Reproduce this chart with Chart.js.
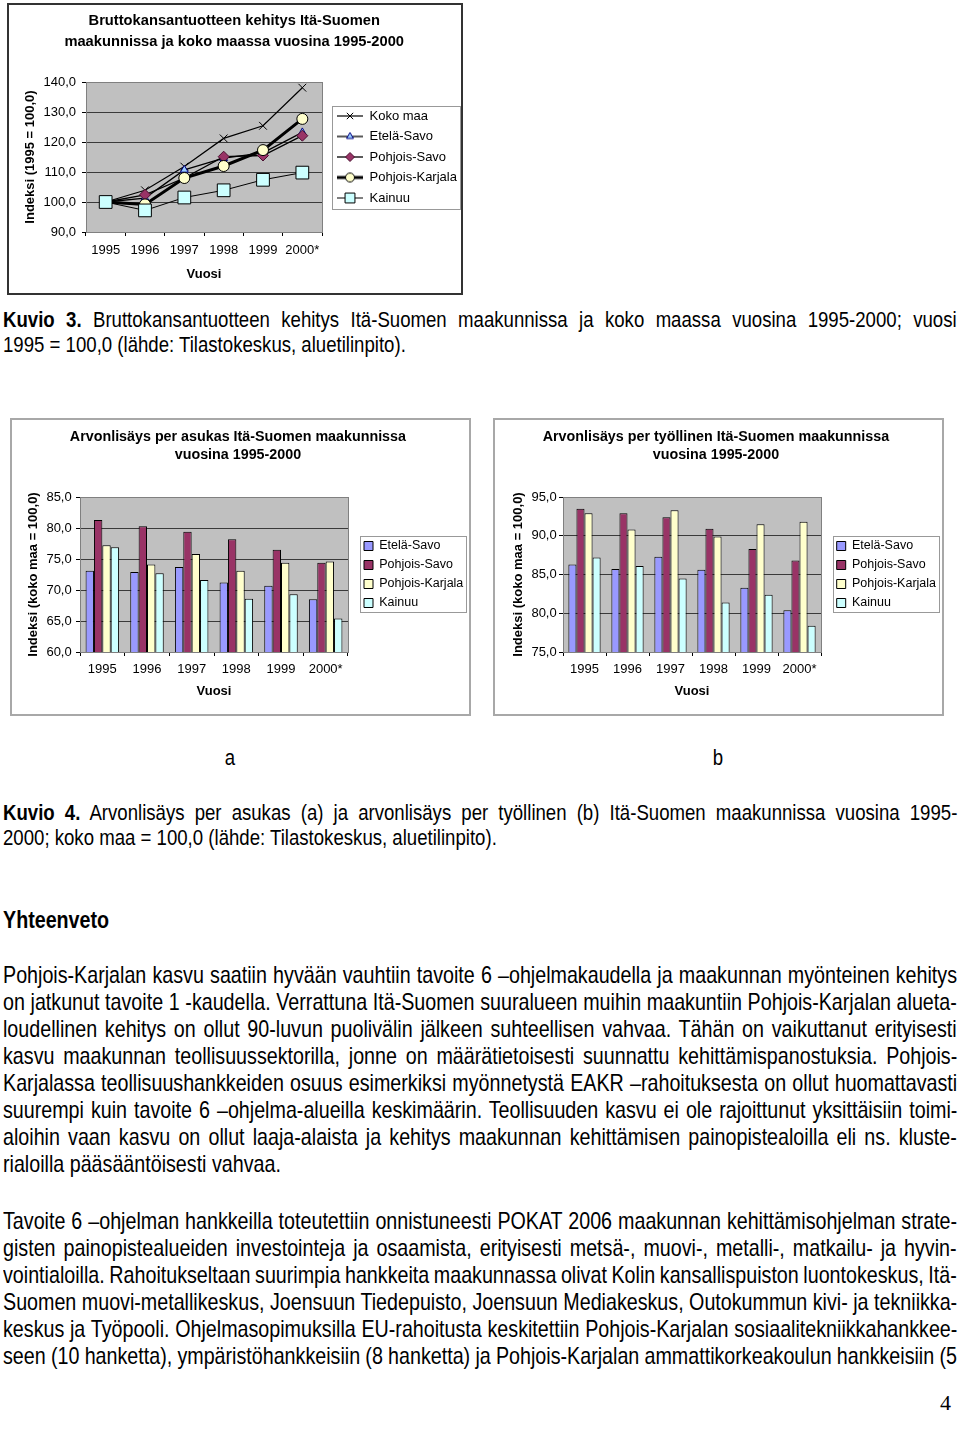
<!DOCTYPE html>
<html><head><meta charset="utf-8">
<script src="https://cdn.jsdelivr.net/npm/chart.js@4.4.1/dist/chart.umd.min.js"></script>
<style>
html,body{margin:0;padding:0;background:#fff;}
body{width:960px;height:1432px;position:relative;overflow:hidden;}
.box{position:absolute;background:#fff;}
.box canvas{position:absolute;left:0;top:0;}
.t{position:absolute;left:3px;width:1163px;font-family:"Liberation Sans",Arial,sans-serif;color:#000;white-space:nowrap;transform:scaleX(0.82);transform-origin:0 0;}
.b24{font-size:24px;line-height:27px;height:27px;}
.c22{font-size:22.7px;line-height:25px;height:25px;}
.lab{position:absolute;font-family:"Liberation Sans",Arial,sans-serif;font-size:22.7px;line-height:25px;width:40px;text-align:center;transform:scaleX(0.82);}
.pg{position:absolute;left:940px;width:20px;font-family:"Liberation Serif","Times New Roman",serif;font-size:22px;line-height:25px;}
</style>
</head><body>

<div class="box" style="left:7px;top:3px;width:452px;height:288px;border:2px solid #333;"><canvas id="c1" width="452" height="288" style="width:452px;height:288px"></canvas></div>

<div class="t c22 j" style="top:307px"><b>Kuvio 3.</b> Bruttokansantuotteen kehitys Itä-Suomen maakunnissa ja koko maassa vuosina 1995-2000; vuosi</div>
<div class="t c22" style="top:332px">1995 = 100,0 (lähde: Tilastokeskus, aluetilinpito).</div>

<div class="box" style="left:10px;top:418px;width:457px;height:294px;border:2px solid #a8a8a8;"><canvas id="c2" width="457" height="294" style="width:457px;height:294px"></canvas></div>
<div class="box" style="left:493px;top:418px;width:447px;height:294px;border:2px solid #a8a8a8;"><canvas id="c3" width="447" height="294" style="width:447px;height:294px"></canvas></div>

<div class="lab" style="left:210px;top:745px">a</div>
<div class="lab" style="left:698px;top:745px">b</div>

<div class="t c22 j" style="top:800px"><b>Kuvio 4.</b> Arvonlisäys per asukas (a) ja arvonlisäys per työllinen (b) Itä-Suomen maakunnissa vuosina 1995-</div>
<div class="t c22" style="top:825px">2000; koko maa = 100,0 (lähde: Tilastokeskus, aluetilinpito).</div>

<div class="t b24" style="top:906px;font-weight:bold">Yhteenveto</div>

<div class="t b24 j" style="top:961px">Pohjois-Karjalan kasvu saatiin hyvään vauhtiin tavoite 6 –ohjelmakaudella ja maakunnan myönteinen kehitys</div>
<div class="t b24 j" style="top:988px">on jatkunut tavoite 1 -kaudella. Verrattuna Itä-Suomen suuralueen muihin maakuntiin Pohjois-Karjalan alueta-</div>
<div class="t b24 j" style="top:1015px">loudellinen kehitys on ollut 90-luvun puolivälin jälkeen suhteellisen vahvaa. Tähän on vaikuttanut erityisesti</div>
<div class="t b24 j" style="top:1042px">kasvu maakunnan teollisuussektorilla, jonne on määrätietoisesti suunnattu kehittämispanostuksia. Pohjois-</div>
<div class="t b24 j" style="top:1069px">Karjalassa teollisuushankkeiden osuus esimerkiksi myönnetystä EAKR –rahoituksesta on ollut huomattavasti</div>
<div class="t b24 j" style="top:1096px">suurempi kuin tavoite 6 –ohjelma-alueilla keskimäärin. Teollisuuden kasvu ei ole rajoittunut yksittäisiin toimi-</div>
<div class="t b24 j" style="top:1123px">aloihin vaan kasvu on ollut laaja-alaista ja kehitys maakunnan kehittämisen painopistealoilla eli ns. kluste-</div>
<div class="t b24" style="top:1150px">rialoilla pääsääntöisesti vahvaa.</div>

<div class="t b24 j" style="top:1207px">Tavoite 6 –ohjelman hankkeilla toteutettiin onnistuneesti POKAT 2006 maakunnan kehittämisohjelman strate-</div>
<div class="t b24 j" style="top:1234px">gisten painopistealueiden investointeja ja osaamista, erityisesti metsä-, muovi-, metalli-, matkailu- ja hyvin-</div>
<div class="t b24 j" style="top:1261px">vointialoilla. Rahoitukseltaan suurimpia hankkeita maakunnassa olivat Kolin kansallispuiston luontokeskus, Itä-</div>
<div class="t b24 j" style="top:1288px">Suomen muovi-metallikeskus, Joensuun Tiedepuisto, Joensuun Mediakeskus, Outokummun kivi- ja tekniikka-</div>
<div class="t b24 j" style="top:1315px">keskus ja Työpooli. Ohjelmasopimuksilla EU-rahoitusta keskitettiin Pohjois-Karjalan sosiaalitekniikkahankkee-</div>
<div class="t b24 j" style="top:1342px">seen (10 hanketta), ympäristöhankkeisiin (8 hanketta) ja Pohjois-Karjalan ammattikorkeakoulun hankkeisiin (5</div>

<div class="pg" style="top:1390px">4</div>

<script>
// ---------- DATA ----------
const years = ['1995', '1996', '1997', '1998', '1999', '2000*'];

const bktTitle = ['Bruttokansantuotteen kehitys Itä-Suomen', 'maakunnissa ja koko maassa vuosina 1995-2000'];
const bktYTitle = 'Indeksi (1995 = 100,0)';
const bktNames = ['Koko maa', 'Etelä-Savo', 'Pohjois-Savo', 'Pohjois-Karjala', 'Kainuu'];
const bktKokoMaa = [100.0, 103.9, 111.8, 121.2, 125.4, 138.1];
const bktEtelaSavo = [100.0, 101.3, 110.7, 114.6, 116.4, 123.2];
const bktPohjoisSavo = [100.0, 102.4, 108.0, 115.1, 115.5, 122.1];
const bktPohjoisKarjala = [100.0, 99.2, 108.0, 112.0, 117.3, 127.7];
const bktKainuu = [100.0, 97.2, 101.5, 103.9, 107.4, 109.8];
const bktYRange = [90, 140, 10];

const xTitle = 'Vuosi';
const barNames = ['Etelä-Savo', 'Pohjois-Savo', 'Pohjois-Karjala', 'Kainuu'];
const barYTitle = 'Indeksi (koko maa = 100,0)';

const asukasTitle = ['Arvonlisäys per asukas Itä-Suomen maakunnissa', 'vuosina 1995-2000'];
const asukasEtelaSavo = [73.1, 72.9, 73.7, 71.2, 70.7, 68.5];
const asukasPohjoisSavo = [81.3, 80.3, 79.4, 78.2, 76.5, 74.4];
const asukasPohjoisKarjala = [77.2, 74.1, 75.8, 73.1, 74.4, 74.6];
const asukasKainuu = [76.9, 72.7, 71.6, 68.6, 69.3, 65.4];
const asukasYRange = [60, 85, 5];

const tyollinenTitle = ['Arvonlisäys per työllinen Itä-Suomen maakunnissa', 'vuosina 1995-2000'];
const tyollinenEtelaSavo = [86.3, 85.7, 87.3, 85.6, 83.3, 80.4];
const tyollinenPohjoisSavo = [93.5, 92.9, 92.4, 90.9, 88.3, 86.8];
const tyollinenPohjoisKarjala = [92.9, 90.8, 93.3, 89.9, 91.5, 91.8];
const tyollinenKainuu = [87.2, 86.1, 84.5, 81.4, 82.4, 78.4];
const tyollinenYRange = [75, 95, 5];

// ---------- STYLE ----------
const FAM = '"Liberation Sans", Arial, Helvetica, sans-serif';
const barColors = ['#9999ff', '#993366', '#ffffcc', '#ccffff'];

function fmt(v) { return Number(v).toFixed(1).replace('.', ','); }
function textW(t, font) { const c = document.createElement('canvas').getContext('2d'); c.font = font; return c.measureText(t).width; }

function drawMarker(ctx, style, r, x, y) {
  if (window.Chart && Chart.helpers && Chart.helpers.drawPoint) {
    Chart.helpers.drawPoint(ctx, {pointStyle: style, radius: r, borderWidth: 1, rotation: 0}, x, y);
  }
}

function makeIcon(ds, r) {
  const c = document.createElement('canvas');
  c.width = 26; c.height = 14;
  const x = c.getContext('2d');
  x.strokeStyle = '#000'; x.lineWidth = ds.borderWidth;
  x.beginPath(); x.moveTo(0, 7); x.lineTo(26, 7); x.stroke();
  x.fillStyle = ds.pointBackgroundColor; x.strokeStyle = ds.pointBorderColor; x.lineWidth = 1;
  drawMarker(x, ds.pointStyle, r, 13, 7);
  return c;
}

function build(canvasId, g, type, datasets, yRange, titleLines, yTitle, iconRadii) {
  const titlePadTop = g.t1 - g.tlh / 2;
  const titlePadBottom = g.T - titlePadTop - g.tlh * titleLines.length;
  const lfont = `${g.lfs}px ${FAM}`;
  const maxText = Math.max(...datasets.map(d => textW(d.label, lfont)));
  const NW = g.lp + g.bw + g.lfs / 2 + maxText + 10;
  const padR = Math.max(0, g.W - g.R - NW);
  const legendW = g.W - g.R - padR;
  const dx = g.itemX - (g.R + g.lp);

  const tune = {
    id: 'tune',
    beforeDraw(c) {
      const a = c.chartArea, x = c.ctx;
      x.save(); x.fillStyle = '#c0c0c0';
      x.fillRect(a.left, a.top, a.right - a.left, a.bottom - a.top); x.restore();
    },
    beforeDatasetsDraw(c) {
      const a = c.chartArea, x = c.ctx;
      x.save(); x.strokeStyle = '#808080'; x.lineWidth = 1;
      x.strokeRect(Math.round(a.left) + 0.5, Math.round(a.top) + 0.5, Math.round(a.right - a.left), Math.round(a.bottom - a.top));
      x.restore();
    },
    afterLayout(c) { c.legend.left += dx; c.legend.right += dx; },
    afterDraw(c) {
      const hb = c.legend.legendHitBoxes; if (!hb || !hb.length) return;
      const x = c.ctx; let r = 0;
      hb.forEach(h => { r = Math.max(r, h.left + h.width); });
      const l = hb[0].left - g.fl, t = hb[0].top - g.ft;
      const last = hb[hb.length - 1];
      const b = last.top + last.height + g.fb;
      x.save(); x.strokeStyle = '#999'; x.lineWidth = 1;
      x.strokeRect(Math.round(l) + 0.5, Math.round(t) + 0.5, Math.round(r + g.fr - l), Math.round(b - t));
      x.restore();
    }
  };

  const labelsOpt = {
    font: {family: FAM, size: g.lfs}, color: '#000', padding: g.lp,
    boxWidth: g.bw, boxHeight: 9
  };
  if (type === 'line') {
    labelsOpt.usePointStyle = true;
    labelsOpt.pointStyleWidth = g.bw;
    labelsOpt.generateLabels = (chart) => chart.data.datasets.map((ds, i) => ({
      text: ds.label, fillStyle: ds.pointBackgroundColor, strokeStyle: '#000', lineWidth: 0,
      pointStyle: makeIcon(ds, iconRadii[i]), fontColor: '#000', hidden: false, datasetIndex: i
    }));
  } else {
    labelsOpt.sort = (a, b) => a.datasetIndex - b.datasetIndex;
  }

  return new Chart(document.getElementById(canvasId), {
    type: type,
    data: {labels: years, datasets: datasets},
    plugins: [tune],
    options: {
      responsive: false, animation: false, devicePixelRatio: 1,
      layout: {padding: {left: 0, top: 0, right: padR, bottom: 0}},
      plugins: {
        title: {display: true, text: titleLines, color: '#000',
          font: {family: FAM, size: g.tfs, weight: 'bold', lineHeight: g.tlh + 'px'},
          padding: {top: titlePadTop, bottom: titlePadBottom}},
        legend: {display: true, position: 'right', fullSize: false, align: 'center', maxWidth: legendW, labels: labelsOpt},
        tooltip: {enabled: false}
      },
      scales: {
        x: {
          type: 'category', offset: true,
          grid: {display: true, drawOnChartArea: false, drawTicks: true, tickLength: 4, offset: true, color: '#000', tickColor: '#000'},
          border: {display: true, color: '#808080'},
          ticks: {font: {family: FAM, size: 13}, color: '#000', padding: g.xTickPad, maxRotation: 0, autoSkip: false},
          title: {display: true, text: xTitle, color: '#000',
            font: {family: FAM, size: 13, weight: 'bold', lineHeight: '16px'},
            padding: {top: 0, bottom: g.H - g.xTitleCY - 8}},
          afterFit(s) { s.height = g.H - g.B; }
        },
        y: {
          min: yRange[0], max: yRange[1],
          grid: {color: '#3a3a3a', lineWidth: 1, drawTicks: true, tickLength: 4, tickColor: '#000'},
          border: {display: true, color: '#808080'},
          ticks: {stepSize: yRange[2], callback: (v) => fmt(v), font: {family: FAM, size: 13}, color: '#000', padding: g.yTickPad},
          title: {display: true, text: yTitle, color: '#000',
            font: {family: FAM, size: 13, weight: 'bold', lineHeight: '16px'},
            padding: {top: g.yTitleCX - 8, bottom: 0}},
          afterFit(s) { s.width = g.L; }
        }
      }
    }
  });
}

// ---------- CHART 1: line ----------
const lineStyles = [
  {data: bktKokoMaa, pointStyle: 'crossRot', pointRadius: 5.5, pointBackgroundColor: '#000', pointBorderColor: '#000', borderWidth: 1.2, order: 5},
  {data: bktEtelaSavo, pointStyle: 'triangle', pointRadius: 4.5, pointBackgroundColor: '#99ccff', pointBorderColor: '#000080', borderWidth: 1.3, order: 4},
  {data: bktPohjoisSavo, pointStyle: 'rectRot', pointRadius: 5.5, pointBackgroundColor: '#993366', pointBorderColor: '#4a1030', borderWidth: 1.3, order: 3},
  {data: bktPohjoisKarjala, pointStyle: 'circle', pointRadius: 5.5, pointBackgroundColor: '#ffffcc', pointBorderColor: '#000', borderWidth: 3, order: 2},
  {data: bktKainuu, pointStyle: 'rect', pointRadius: 9, pointBackgroundColor: '#ccffff', pointBorderColor: '#000', borderWidth: 1, order: 1}
];
const lineSets = lineStyles.map((s, i) => Object.assign({
  label: bktNames[i], borderColor: '#000', pointBorderWidth: 1, tension: 0, fill: false
}, s));

build('c1', {W: 452, H: 288, L: 77, R: 313, T: 77, B: 227, t1: 16, tlh: 21, tfs: 14.7,
  yTitleCX: 21, xTitleCY: 269, xTickPad: 7, yTickPad: 6, lfs: 13, lp: 7.5, bw: 26, itemX: 328,
  fl: 5, fr: 3, ft: 4, fb: 4}, 'line', lineSets, bktYRange, bktTitle, bktYTitle, [4.5, 4, 4.5, 4.5, 7]);

// ---------- CHARTS 2 & 3: bars ----------
function barSets(arrs) {
  return arrs.map((d, i) => ({label: barNames[i], data: d, backgroundColor: barColors[i],
    borderColor: '#000', borderWidth: 1, barPercentage: 1, categoryPercentage: 0.75}));
}

build('c2', {W: 457, H: 294, L: 68, R: 336, T: 77, B: 232, t1: 16.7, tlh: 18.3, tfs: 14.3,
  yTitleCX: 21.3, xTitleCY: 271.7, xTickPad: 5.5, yTickPad: 4.3, lfs: 12.5, lp: 6.5, bw: 9, itemX: 352,
  fl: 4, fr: 3, ft: 3.5, fb: 3}, 'bar',
  barSets([asukasEtelaSavo, asukasPohjoisSavo, asukasPohjoisKarjala, asukasKainuu]),
  asukasYRange, asukasTitle, barYTitle);

build('c3', {W: 447, H: 294, L: 68, R: 326, T: 77, B: 232, t1: 16.7, tlh: 18.3, tfs: 14.3,
  yTitleCX: 23.3, xTitleCY: 271.7, xTickPad: 5.5, yTickPad: 2.3, lfs: 12.5, lp: 6.5, bw: 9, itemX: 341.7,
  fl: 4, fr: 3, ft: 3.5, fb: 3}, 'bar',
  barSets([tyollinenEtelaSavo, tyollinenPohjoisSavo, tyollinenPohjoisKarjala, tyollinenKainuu]),
  tyollinenYRange, tyollinenTitle, barYTitle);

// ---------- justify text lines (layout width before the 0.82 horizontal scale) ----------
const TARGET = 954 / 0.82;
document.querySelectorAll('.j').forEach(el => {
  const span = document.createElement('span');
  while (el.firstChild) span.appendChild(el.firstChild);
  el.appendChild(span);
  const w = span.offsetWidth;
  const n = (el.textContent.match(/ /g) || []).length;
  if (n > 0) el.style.wordSpacing = ((TARGET - w) / n) + 'px';
});
</script>
</body></html>
